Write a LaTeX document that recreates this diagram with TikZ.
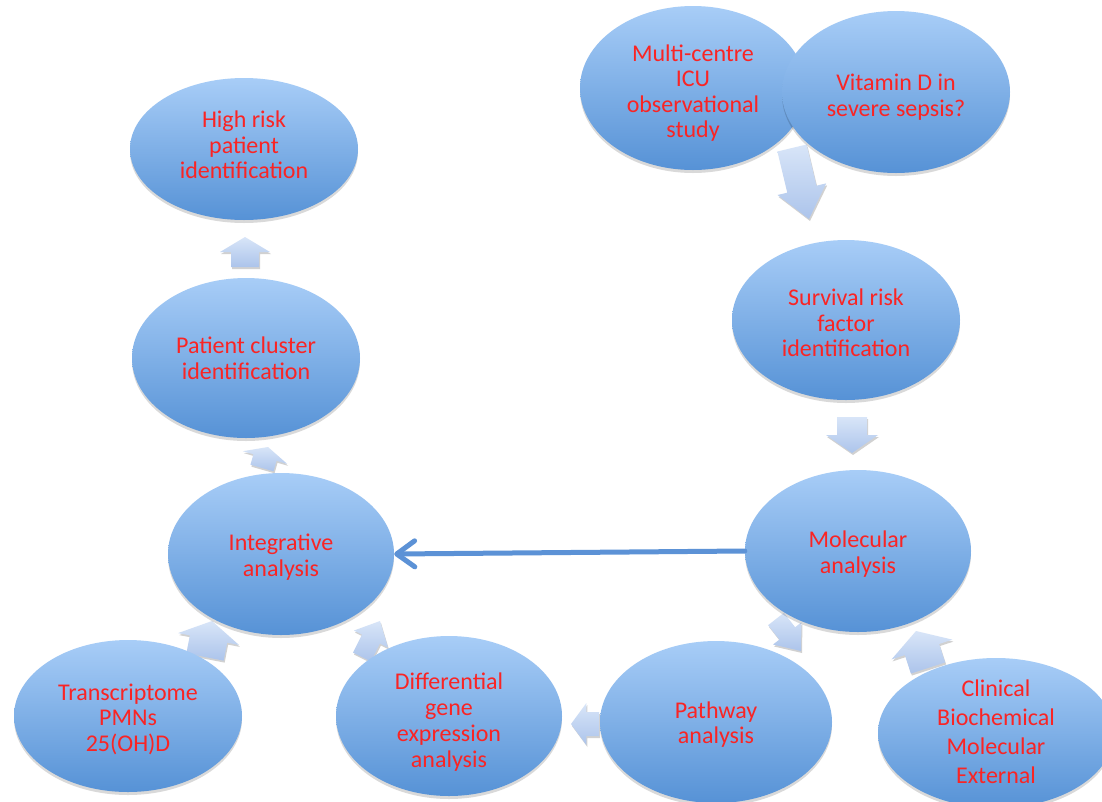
\documentclass[tikz,border=0pt]{standalone}
\usepackage{fontspec}
\setmainfont{Carlito}
\usetikzlibrary{shapes.geometric,shadows,calc,arrows.meta}
\definecolor{elltop}{RGB}{168,205,247}
\definecolor{ellbot}{RGB}{86,146,214}
\definecolor{arrtop}{RGB}{216,229,248}
\definecolor{arrbot}{RGB}{172,196,235}
\definecolor{linkblue}{RGB}{92,146,214}
\definecolor{txtred}{RGB}{250,36,36}
\tikzset{
  bubble/.style={ellipse, inner sep=0pt, top color=elltop, bottom color=ellbot, draw=none,
    drop shadow={shadow xshift=0pt, shadow yshift=-3pt, opacity=0.15, fill=black}},
  lbl/.style={align=center, text=txtred, inner sep=0pt, font=\fontsize{24}{25.5}\selectfont},
  barrow/.style={top color=arrtop, bottom color=arrbot, draw=none,
    drop shadow={shadow xshift=1pt, shadow yshift=-2pt, opacity=0.18, fill=black}},
}
\newcommand{\blockarr}[5]{%
  \coordinate (ba) at ($(#1)!#5!(#2)$);
  \path[barrow] ($(#1)!#4!90:(#2)$) -- ($(ba)!#4!90:(#2)$) -- ($(ba)!#3!90:(#2)$) -- (#2)
    -- ($(ba)!#3!-90:(#2)$) -- ($(ba)!#4!-90:(#2)$) -- ($(#1)!#4!-90:(#2)$) -- cycle;
}
\begin{document}
\begin{tikzpicture}[x=1pt,y=-1pt]
\useasboundingbox (0,0) rectangle (1102,801);
\clip (0,0) rectangle (1102,801);
\fill[white] (0,0) rectangle (1102,801);
% arrow coordinates
\coordinate (a1t) at (245,267); \coordinate (a1h) at (245,237);
\coordinate (a2t) at (262,468); \coordinate (a2h) at (268,447);
\coordinate (a3t) at (205,657); \coordinate (a3h) at (212,621);
\coordinate (a4t) at (362,657); \coordinate (a4h) at (380,621);
\coordinate (a5t) at (776,619); \coordinate (a5h) at (801,651);
\coordinate (a6t) at (928,668); \coordinate (a6h) at (916,631);
\coordinate (a7t) at (599,724); \coordinate (a7h) at (571,724);
\coordinate (a8t) at (852,417); \coordinate (a8h) at (852,453);
\coordinate (a9t) at (792,148); \coordinate (a9h) at (809,219);
\blockarr{a1t}{a1h}{25pt}{14pt}{0.5}
\blockarr{a2t}{a2h}{23pt}{12pt}{0.5}
\blockarr{a3t}{a3h}{31pt}{19pt}{0.5}
\blockarr{a4t}{a4h}{19pt}{10pt}{0.5}
\blockarr{a5t}{a5h}{18pt}{10pt}{0.45}
\blockarr{a6t}{a6h}{32pt}{18pt}{0.5}
\blockarr{a7t}{a7h}{21pt}{12pt}{0.45}
\blockarr{a8t}{a8h}{26pt}{15pt}{0.5}
\blockarr{a9t}{a9h}{25pt}{15pt}{0.58}
% bubbles
\node[bubble, minimum width=228pt, minimum height=142pt] (high) at (244,149) {};
\node[lbl] (highT) at ($(high.center)+(0,-4)$) {High risk\\patient\\identification};
\node[bubble, minimum width=228pt, minimum height=160pt] (cluster) at (246,358) {};
\node[lbl] (clusterT) at (cluster.center) {Patient cluster\\identification};
\node[bubble, minimum width=226pt, minimum height=162pt] (integ) at (281,554) {};
\node[lbl] (integT) at ($(integ.center)+(0,3)$) {Integrative\\analysis};
\node[bubble, minimum width=228pt, minimum height=152pt] (trans) at (128,716) {};
\node[lbl] (transT) at ($(trans.center)+(0,3)$) {Transcriptome\\PMNs\\25(OH)D};
\node[bubble, minimum width=226pt, minimum height=160pt] (diff) at (449,716) {};
\node[lbl, font=\fontsize{24}{26}\selectfont] (diffT) at ($(diff.center)+(0,6)$) {Differential\\gene\\expression\\analysis};
\node[bubble, minimum width=232pt, minimum height=162pt] (path) at (716,722) {};
\node[lbl] (pathT) at ($(path.center)+(0,2.5)$) {Pathway\\analysis};
\node[bubble, minimum width=236pt, minimum height=150pt] (clin) at (996,733) {};
\node[lbl, font=\fontsize{24}{29}\selectfont] (clinT) at ($(clin.center)+(0,-1.5)$) {Clinical\\Biochemical\\Molecular\\External};
\node[bubble, minimum width=226pt, minimum height=162pt] (mol) at (858,551) {};
\node[lbl] (molT) at ($(mol.center)+(0,3)$) {Molecular\\analysis};
\node[bubble, minimum width=228pt, minimum height=160pt] (surv) at (846,320) {};
\node[lbl] (survT) at ($(surv.center)+(0,3)$) {Survival risk\\factor\\identification};
\node[bubble, minimum width=226pt, minimum height=164pt] (multi) at (693,88) {};
\node[lbl] (multiT) at ($(multi.center)+(0,5)$) {Multi-centre\\ICU\\observational\\study};
\node[bubble, minimum width=228pt, minimum height=162pt] (vit) at (896,92) {};
\node[lbl] (vitT) at ($(vit.center)+(0,5)$) {Vitamin D in\\severe sepsis?};
% long arrow
\draw[linkblue, line width=5pt, line cap=round, -{Straight Barb[length=18pt,width=26pt,round]}]
  (mol.west) -- (integ.east);
\end{tikzpicture}
\end{document}
